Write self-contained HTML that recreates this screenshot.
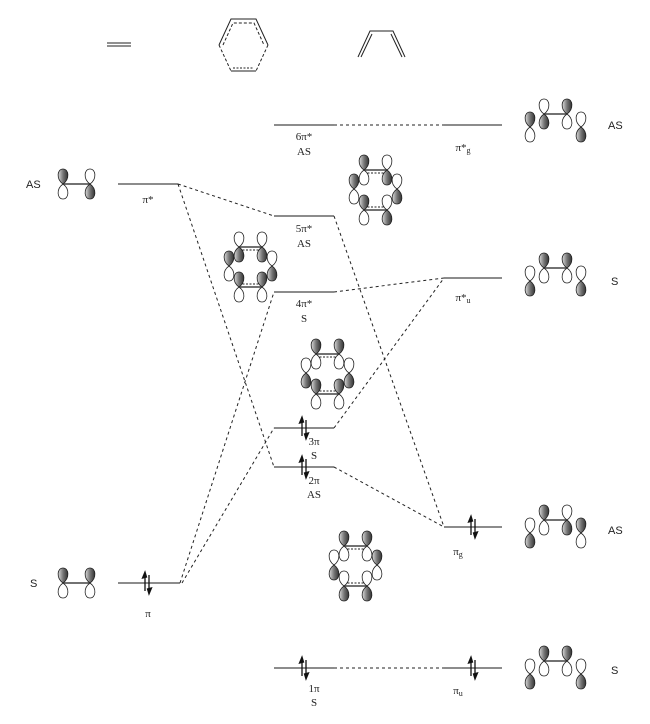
<!DOCTYPE html>
<html><head><meta charset="utf-8"><style>
html,body{margin:0;padding:0;background:#fff}
svg{display:block}
text{font-family:"Liberation Serif",serif;font-size:11px;fill:#222}
.s{font-family:"Liberation Sans",sans-serif;font-size:11px}
</style></head><body>
<svg width="650" height="724" viewBox="0 0 650 724" xmlns="http://www.w3.org/2000/svg">
<defs>
<linearGradient id="g" x1="0" x2="1"><stop offset="0" stop-color="#ddd"/><stop offset="0.5" stop-color="#777"/><stop offset="1" stop-color="#333"/></linearGradient>
<path id="lt" d="M0,0 C-7,-5 -6,-15 0,-15 C6,-15 7,-5 0,0 Z"/>
<path id="lb" d="M0,0 C-7,5 -6,15 0,15 C6,15 7,5 0,0 Z"/>
<g id="U"><use href="#lt" fill="url(#g)" stroke="#222" stroke-width="0.8"/><use href="#lb" fill="#fff" stroke="#222" stroke-width="0.8"/></g>
<g id="D"><use href="#lt" fill="#fff" stroke="#222" stroke-width="0.8"/><use href="#lb" fill="url(#g)" stroke="#222" stroke-width="0.8"/></g>
<g id="ar" stroke="#111" stroke-width="1.3" fill="#111"><line x1="-2" y1="8" x2="-2" y2="-8"/><path d="M-2,-11 L-4.5,-5 L-0.5,-6 Z"/><line x1="2" y1="-8" x2="2" y2="8"/><path d="M2,11 L4.5,5 L0.5,6 Z"/></g>
</defs>
<g stroke="#222" fill="none" stroke-width="1">
<line x1="107" y1="43" x2="131" y2="43"/><line x1="107" y1="46" x2="131" y2="46"/>
<polyline points="219,45 231,19 256,19 268,45"/>
<line x1="219" y1="45" x2="231" y2="71" stroke-dasharray="3,2"/><line x1="268" y1="45" x2="256" y2="71" stroke-dasharray="3,2"/>
<line x1="231" y1="71" x2="256" y2="71"/>
<polyline points="223,45 233,23 254,23 264,45" stroke-dasharray="3,2"/>
<line x1="233" y1="68" x2="254" y2="68" stroke-dasharray="2,1.5"/>
<polyline points="358,57 370,31 393,31 405,57"/>
<line x1="361" y1="57" x2="372" y2="34"/><line x1="402" y1="57" x2="391" y2="34"/>
</g>
<g stroke="#666" stroke-width="1.5">
<line x1="118" y1="184" x2="178" y2="184"/>
<line x1="118" y1="583" x2="180" y2="583"/>
<line x1="274" y1="125" x2="334" y2="125"/>
<line x1="274" y1="216" x2="334" y2="216"/>
<line x1="274" y1="292" x2="334" y2="292"/>
<line x1="274" y1="428" x2="334" y2="428"/>
<line x1="274" y1="467" x2="334" y2="467"/>
<line x1="274" y1="668" x2="334" y2="668"/>
<line x1="444" y1="125" x2="502" y2="125"/>
<line x1="444" y1="278" x2="502" y2="278"/>
<line x1="444" y1="527" x2="502" y2="527"/>
<line x1="444" y1="668" x2="502" y2="668"/>
</g>
<g stroke="#222" stroke-width="1" stroke-dasharray="3,3" fill="none">
<line x1="334" y1="125" x2="444" y2="125"/>
<line x1="178" y1="184" x2="274" y2="216"/>
<line x1="178" y1="184" x2="274" y2="467"/>
<line x1="180" y1="583" x2="274" y2="292"/>
<line x1="182" y1="583" x2="274" y2="428"/>
<line x1="334" y1="216" x2="444" y2="527"/>
<line x1="334" y1="292" x2="444" y2="278"/>
<line x1="334" y1="428" x2="444" y2="278"/>
<line x1="334" y1="467" x2="444" y2="527"/>
<line x1="334" y1="668" x2="444" y2="668"/>
</g>
<use href="#ar" x="147" y="583"/>
<use href="#ar" x="304" y="428"/>
<use href="#ar" x="304" y="467"/>
<use href="#ar" x="304" y="668"/>
<use href="#ar" x="473" y="527"/>
<use href="#ar" x="473" y="668"/>
<line x1="63" y1="184" x2="90" y2="184" stroke="#444" stroke-width="1.5"/>
<use href="#U" x="63" y="184"/><use href="#D" x="90" y="184"/>
<line x1="63" y1="583" x2="90" y2="583" stroke="#444" stroke-width="1.5"/>
<use href="#U" x="63" y="583"/><use href="#U" x="90" y="583"/>
<g transform="translate(375,190)">
<line x1="-11" y1="-20" x2="12" y2="-20" stroke="#444" stroke-width="1.5"/><line x1="-11" y1="-17" x2="12" y2="-17" stroke="#222" stroke-dasharray="2,1.5"/>
<line x1="-11" y1="20" x2="12" y2="20" stroke="#444" stroke-width="1.5"/><line x1="-11" y1="17" x2="12" y2="17" stroke="#222" stroke-dasharray="2,1.5"/>
<use href="#U" x="-11" y="-20"/><use href="#D" x="12" y="-20"/>
<use href="#U" x="-21" y="-1"/><use href="#D" x="22" y="-1"/>
<use href="#U" x="-11" y="20"/><use href="#D" x="12" y="20"/>
</g>
<g transform="translate(250,267)">
<line x1="-11" y1="-20" x2="12" y2="-20" stroke="#444" stroke-width="1.5"/><line x1="-11" y1="-17" x2="12" y2="-17" stroke="#222" stroke-dasharray="2,1.5"/>
<line x1="-11" y1="20" x2="12" y2="20" stroke="#444" stroke-width="1.5"/><line x1="-11" y1="17" x2="12" y2="17" stroke="#222" stroke-dasharray="2,1.5"/>
<use href="#D" x="-11" y="-20"/><use href="#D" x="12" y="-20"/>
<use href="#U" x="-21" y="-1"/><use href="#D" x="22" y="-1"/>
<use href="#U" x="-11" y="20"/><use href="#U" x="12" y="20"/>
</g>
<g transform="translate(327,374)">
<line x1="-11" y1="-20" x2="12" y2="-20" stroke="#444" stroke-width="1.5"/><line x1="-11" y1="-17" x2="12" y2="-17" stroke="#222" stroke-dasharray="2,1.5"/>
<line x1="-11" y1="20" x2="12" y2="20" stroke="#444" stroke-width="1.5"/><line x1="-11" y1="17" x2="12" y2="17" stroke="#222" stroke-dasharray="2,1.5"/>
<use href="#U" x="-11" y="-20"/><use href="#U" x="12" y="-20"/>
<use href="#D" x="-21" y="-1"/><use href="#D" x="22" y="-1"/>
<use href="#U" x="-11" y="20"/><use href="#U" x="12" y="20"/>
</g>
<g transform="translate(355,566)">
<line x1="-11" y1="-20" x2="12" y2="-20" stroke="#444" stroke-width="1.5"/><line x1="-11" y1="-17" x2="12" y2="-17" stroke="#222" stroke-dasharray="2,1.5"/>
<line x1="-11" y1="20" x2="12" y2="20" stroke="#444" stroke-width="1.5"/><line x1="-11" y1="17" x2="12" y2="17" stroke="#222" stroke-dasharray="2,1.5"/>
<use href="#U" x="-11" y="-20"/><use href="#U" x="12" y="-20"/>
<use href="#D" x="-21" y="-1"/><use href="#U" x="22" y="-1"/>
<use href="#D" x="-11" y="20"/><use href="#D" x="12" y="20"/>
</g>
<line x1="544" y1="114" x2="567" y2="114" stroke="#444" stroke-width="1.5"/>
<use href="#U" x="530" y="127"/><use href="#D" x="544" y="114"/><use href="#U" x="567" y="114"/><use href="#D" x="581" y="127"/>
<line x1="544" y1="268" x2="567" y2="268" stroke="#444" stroke-width="1.5"/>
<use href="#D" x="530" y="281"/><use href="#U" x="544" y="268"/><use href="#U" x="567" y="268"/><use href="#D" x="581" y="281"/>
<line x1="544" y1="520" x2="567" y2="520" stroke="#444" stroke-width="1.5"/>
<use href="#D" x="530" y="533"/><use href="#U" x="544" y="520"/><use href="#D" x="567" y="520"/><use href="#U" x="581" y="533"/>
<line x1="544" y1="661" x2="567" y2="661" stroke="#444" stroke-width="1.5"/>
<use href="#D" x="530" y="674"/><use href="#U" x="544" y="661"/><use href="#U" x="567" y="661"/><use href="#D" x="581" y="674"/>
<text class="s" x="26" y="188">AS</text>
<text class="s" x="30" y="587">S</text>
<text class="s" x="608" y="129">AS</text>
<text class="s" x="611" y="285">S</text>
<text class="s" x="608" y="534">AS</text>
<text class="s" x="611" y="674">S</text>
<g text-anchor="middle">
<text x="148" y="203">π*</text>
<text x="148" y="617">π</text>
<text x="304" y="140">6π*</text><text x="304" y="155">AS</text>
<text x="304" y="232">5π*</text><text x="304" y="247">AS</text>
<text x="304" y="307">4π*</text><text x="304" y="322">S</text>
<text x="314" y="445">3π</text><text x="314" y="459">S</text>
<text x="314" y="484">2π</text><text x="314" y="498">AS</text>
<text x="314" y="692">1π</text><text x="314" y="706">S</text>
<text x="463" y="151">π*<tspan font-size="8" dy="2">g</tspan></text>
<text x="463" y="301">π*<tspan font-size="8" dy="2">u</tspan></text>
<text x="458" y="555">π<tspan font-size="8" dy="2">g</tspan></text>
<text x="458" y="694">π<tspan font-size="8" dy="2">u</tspan></text>
</g>
</svg>
</body></html>
